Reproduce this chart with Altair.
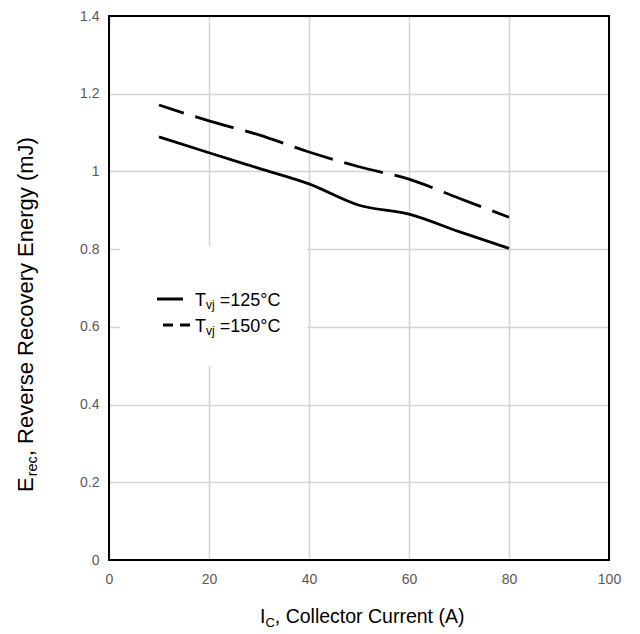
import altair as alt
import pandas as pd

# ---- data ----
current = [10, 20, 30, 40, 50, 60, 70, 80]
e_rec_125 = [1.089, 1.048, 1.008, 0.968, 0.913, 0.890, 0.845, 0.802]
e_rec_150 = [1.171, 1.130, 1.094, 1.050, 1.012, 0.980, 0.931, 0.882]
x_ticks = [0, 20, 40, 60, 80, 100]
y_ticks = [0, 0.2, 0.4, 0.6, 0.8, 1.0, 1.2, 1.4]

FONT = "Liberation Sans"
W, H = 500, 544

# Arial-compatible advance widths (per 1000 em) for composing sub-scripted text
AW = {" ": 278, ",": 278, "(": 333, ")": 333, "A": 667, "C": 722, "E": 667, "I": 278,
      "J": 500, "R": 722, "T": 611, "a": 556, "c": 500, "e": 556, "g": 556, "j": 222,
      "l": 222, "m": 833, "n": 556, "o": 556, "r": 333, "s": 500, "t": 278, "u": 556,
      "v": 500, "y": 500, "=": 584, "°": 400}
for d in "0123456789":
    AW[d] = 556


def adv(s, size):
    return sum(AW.get(ch, 556) for ch in s) * size / 1000.0


df = pd.DataFrame({
    "I": current * 2,
    "E": e_rec_125 + e_rec_150,
    "T": ["125"] * len(current) + ["150"] * len(current),
})

xs = alt.Scale(domain=[0, 100], nice=False)
ys = alt.Scale(domain=[0, 1.4], nice=False)

xaxis = alt.Axis(values=x_ticks, title=None, grid=True, ticks=False, domain=False,
                 labelFlush=False, labelFont=FONT, labelFontSize=14, labelColor="#595959",
                 labelPadding=12, gridColor="#d3d3d3", gridWidth=1.5)
yaxis = alt.Axis(values=y_ticks, title=None, grid=True, ticks=False, domain=False,
                 labelFlush=False, format=".1~f", labelFont=FONT, labelFontSize=14,
                 labelColor="#595959", labelPadding=10, gridColor="#d3d3d3", gridWidth=1.5)

base = alt.Chart(df)

line125 = base.transform_filter(alt.datum.T == "125").mark_line(
    color="black", strokeWidth=2.8, interpolate="monotone"
).encode(x=alt.X("I:Q", scale=xs, axis=xaxis), y=alt.Y("E:Q", scale=ys, axis=yaxis))

line150 = base.transform_filter(alt.datum.T == "150").mark_line(
    color="black", strokeWidth=2.8, interpolate="monotone",
    strokeDash=[40, 12], strokeDashOffset=14
).encode(x=alt.X("I:Q", scale=xs), y=alt.Y("E:Q", scale=ys))

one = pd.DataFrame({"k": [0]})

# legend box (white, hides grid)
legbox = alt.Chart(one).mark_rect(color="white").encode(
    x=alt.value(11), x2=alt.value(198), y=alt.value(230), y2=alt.value(350))

# plot border
border = alt.Chart(one).mark_rect(filled=False, stroke="black", strokeWidth=2).encode(
    x=alt.value(0), x2=alt.value(W), y=alt.value(0), y2=alt.value(H))

leg_solid = alt.Chart(one).mark_rule(color="black", strokeWidth=3).encode(
    x=alt.value(48), x2=alt.value(74), y=alt.value(283))
leg_dash = alt.Chart(one).mark_rule(color="black", strokeWidth=3, strokeDash=[10, 7]).encode(
    x=alt.value(54), x2=alt.value(81), y=alt.value(309))


def txt(s, x, y, size, angle=0):
    kw = dict(text=s, font=FONT, fontSize=size, color="black", align="left",
              baseline="alphabetic")
    if angle:
        kw["angle"] = angle
    return alt.Chart(one).mark_text(**kw).encode(x=alt.value(x), y=alt.value(y))


layers = [legbox, line125, line150, leg_solid, leg_dash]

# legend labels: T_vj =125°C / T_vj =150°C
LS, LSS = 18, 12
for label, yb in [("=125°C", 290), ("=150°C", 316)]:
    x0 = 86
    layers.append(txt("T", x0, yb, LS))
    x1 = x0 + adv("T", LS)
    layers.append(txt("vj", x1, yb + 3, LSS))
    x2 = x1 + adv("vj", LSS) + 5
    layers.append(txt(label, x2, yb, LS))

# x title: I_C, Collector Current (A)
XS, XSS = 19.5, 13
xt0, ytb = 151, 607
layers.append(txt("I", xt0, ytb, XS))
xt1 = xt0 + adv("I", XS)
layers.append(txt("C", xt1, ytb + 4, XSS))
xt2 = xt1 + adv("C", XSS)
layers.append(txt(", Collector Current (A)", xt2, ytb, XS))

# y title: E_rec, Reverse Recovery Energy (mJ)  (rotated)
YS, YSS = 22, 14.5
yx, yy0 = -76, 476
layers.append(txt("E", yx, yy0, YS, 270))
yy1 = yy0 - adv("E", YS) - 1
layers.append(txt("rec", yx + 4, yy1, YSS, 270))
yy2 = yy1 - adv("rec", YSS)
layers.append(txt(", Reverse Recovery Energy (mJ)", yx, yy2, YS, 270))

layers.append(border)

chart = alt.layer(*layers).properties(
    width=W, height=H,
    background="white",
    autosize=alt.AutoSizeParams(type="none"),
    padding={"left": 109, "top": 16, "right": 31, "bottom": 74},
).configure_view(strokeWidth=0)

chart.save("out.html", embed_options={"renderer": "svg", "actions": False})
